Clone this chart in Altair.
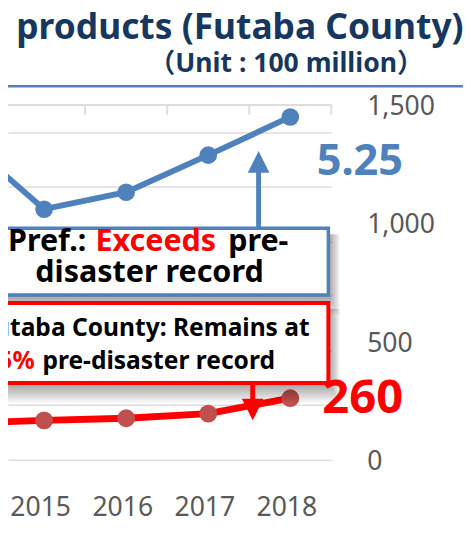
import altair as alt
import pandas as pd

# ---- data ----
years = [2014, 2015, 2016, 2017, 2018]
pref_output = [59000, 45900, 49000, 55800, 62800]      # blue series (left axis, cropped)
futaba_output = [155, 166, 175, 195, 260]              # red series (right axis)
year_labels = [2015, 2016, 2017, 2018]
category_bounds = [2014.5, 2015.5, 2016.5, 2017.5, 2018.5]
right_ticks = [0, 500, 1000, 1500]
left_grid = [0, 10000, 20000, 30000, 40000, 50000, 60000]

title_text = "products (Futaba County)"
subtitle_text = "（Unit : 100 million）"
pref_line1 = ["Pref.:", "Exceeds", "pre-"]
pref_line2 = "disaster record"
futaba_line1 = "Futaba County: Remains at"
futaba_line2 = ["5%", "pre-disaster record"]
pref_callout = "5.25"
futaba_callout = "260"

BLUE = "#4F81BD"
RED = "#FF0000"
RED_MARK = "#C0504D"
NAVY = "#17375E"
GRAY_TXT = "#595959"
GRID = "#DDDDDD"
FONT = "Noto Sans"

W, H = 329, 361

df = pd.DataFrame({"year": years, "pref": pref_output, "futaba": futaba_output})
bounds_df = pd.DataFrame({"b": category_bounds})
one = alt.Data(values=[{}])

xscale = alt.Scale(domain=[2014.56, 2018.5], nice=False, zero=False)
x_axis = alt.Axis(
    values=year_labels, format="d", labelFontSize=27, labelColor=GRAY_TXT,
    labelFont=FONT, domain=False, ticks=False, grid=False, labelPadding=36,
    labelOffset=-4, labelFlush=False, title=None, orient="bottom",
)
x_enc = alt.X("year:Q", scale=xscale, axis=x_axis)

blue = alt.Chart(df).mark_line(
    color=BLUE, strokeWidth=6,
    point=alt.OverlayMarkDef(filled=True, size=320, color=BLUE, opacity=1),
).encode(
    x=x_enc,
    y=alt.Y(
        "pref:Q",
        scale=alt.Scale(domain=[0, 65000], nice=False, zero=True),
        axis=alt.Axis(
            orient="left", values=left_grid, labels=False, ticks=False, domain=False,
            grid=True, gridColor=GRID, gridWidth=1.5, title=None,
        ),
    ),
)

red = alt.Chart(df).mark_line(
    color=RED, strokeWidth=7,
    point=alt.OverlayMarkDef(filled=True, size=330, color=RED_MARK, opacity=1),
).encode(
    x=x_enc,
    y=alt.Y(
        "futaba:Q",
        scale=alt.Scale(domain=[0, 1500], nice=False, zero=True),
        axis=alt.Axis(
            orient="right", values=right_ticks, format=",d", labelFontSize=27,
            labelColor=GRAY_TXT, labelFont=FONT, labelPadding=36, tickSize=0,
            labelOffset=2, ticks=False, domain=False, grid=False, title=None,
        ),
    ),
)

top_line = alt.Chart(one).mark_rule(color=GRID, strokeWidth=2).encode(
    x=alt.value(-8), x2=alt.value(W), y=alt.value(0)
)
top_ticks = alt.Chart(bounds_df).mark_rule(color=GRID, strokeWidth=2).encode(
    x=alt.X("b:Q", scale=xscale, axis=x_axis), y=alt.value(0), y2=alt.value(10)
)


def txt(s, x, y, size, color, align="left", weight="bold", font=FONT):
    return alt.Chart(one).mark_text(
        text=s, align=align, baseline="alphabetic", fontSize=size,
        fontWeight=weight, font=font, color=color,
    ).encode(x=alt.value(x), y=alt.value(y))


def box(x1, x2, y1, y2, stroke, sw):
    return alt.Chart(one).mark_rect(fill="white", stroke=stroke, strokeWidth=sw).encode(
        x=alt.value(x1), x2=alt.value(x2), y=alt.value(y1), y2=alt.value(y2)
    )


def shadow(x1, x2, y1, y2):
    layers = []
    for i in range(8):
        layers.append(
            alt.Chart(one).mark_rect(fill="black", opacity=0.05).encode(
                x=alt.value(x1), x2=alt.value(x2 + 1 + i * 1.5),
                y=alt.value(y1 + 6), y2=alt.value(y2 + 2 + i * 2.5),
            )
        )
    return layers


def vrule(x, y1, y2, color, sw):
    return alt.Chart(one).mark_rule(color=color, strokeWidth=sw).encode(
        x=alt.value(x), y=alt.value(y1), y2=alt.value(y2)
    )


def head(x, y, color, path):
    return alt.Chart(one).mark_point(
        shape=path, size=484, filled=True, color=color, opacity=1, strokeWidth=0
    ).encode(x=alt.value(x), y=alt.value(y))


UP = "M-1,1L1,1L0,-1Z"
DOWN = "M-1,-1L1,-1L0,1Z"

# blue callout box
bx1, bx2, by1, by2 = -20, 326, 125.5, 193.5
# red callout box
rx1, rx2, ry1, ry2 = -20, 326, 201.5, 283

layers = [blue, red, top_line, top_ticks]
layers += shadow(bx1, bx2, by1, by2)
layers += [
    vrule(255, 125, 63, BLUE, 5),
    head(255, 58, BLUE, UP),
    box(bx1, bx2, by1, by2, BLUE, 3.5),
    txt(pref_line1[0], 0, 149, 31, "black"),
    txt(pref_line1[1], 89, 149, 31, RED),
    txt(pref_line1[2], 224, 149, 31, "black"),
    txt(pref_line2, 144, 180, 31, "black", align="center"),
]
layers += shadow(rx1, rx2, ry1, ry2)
layers += [
    box(rx1, rx2, ry1, ry2, RED, 4),
    vrule(249, 283, 303, RED, 5),
    head(249, 310, RED, DOWN),
    txt(futaba_line1, 307, 235, 25, "black", align="right"),
    txt(futaba_line2[0], 27, 269, 25, RED, align="right"),
    txt(futaba_line2[1], 35, 269, 25, "black"),
    txt(pref_callout, 358, 71, 44, BLUE, align="center"),
    txt(futaba_callout, 361, 313, 48, RED, align="center"),
    txt(title_text, 236, -67, 36, NAVY, align="center"),
    txt(subtitle_text, 283, -34, 27, NAVY, align="center", font="Noto Sans, Noto Sans CJK JP"),
    alt.Chart(one).mark_rule(color=BLUE, strokeWidth=2.5).encode(
        x=alt.value(-8), x2=alt.value(463), y=alt.value(-19)
    ),
]

chart = (
    alt.layer(*layers)
    .resolve_scale(y="independent")
    .properties(
        width=W, height=H,
        padding={"left": 0, "top": 94, "right": 134, "bottom": 71},
        autosize=alt.AutoSizeParams(type="none"),
    )
    .configure_view(stroke=None)
)

chart.save("out.html", embed_options={"renderer": "svg", "actions": False})
